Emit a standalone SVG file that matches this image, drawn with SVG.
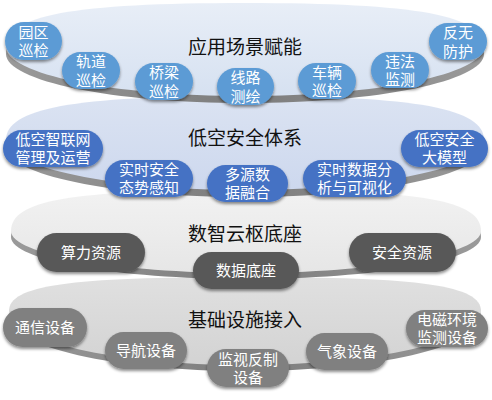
<svg xmlns="http://www.w3.org/2000/svg" width="492" height="400" viewBox="0 0 492 400">
<style>
.t{font-family:"Noto Sans CJK SC","Noto Sans",sans-serif;font-size:19px;fill:#111;text-anchor:middle;dominant-baseline:central}
.n{font-family:"Liberation Sans","Noto Sans CJK SC",sans-serif;font-size:15px;fill:#fff;text-anchor:middle;dominant-baseline:central}
.b1{fill:#5b9bd5;filter:url(#sh)}
.b2{fill:#4472c4;filter:url(#sh)}
.b3{fill:#595959;filter:url(#sh)}
.b4{fill:#808080;filter:url(#sh)}
.edge{fill:url(#edge)}
</style>
<defs>
<filter id="sh" x="-20%" y="-20%" width="140%" height="150%">
<feDropShadow dx="0" dy="2" stdDeviation="1.5" flood-color="#000" flood-opacity="0.45"/>
</filter>
<linearGradient id="edge" x1="0" y1="0" x2="1" y2="0">
<stop offset="0" stop-color="#9a9a9a"/>
<stop offset="0.5" stop-color="#7c7c7c"/>
<stop offset="1" stop-color="#9a9a9a"/>
</linearGradient>
<linearGradient id="g1" x1="0" y1="0" x2="0" y2="1">
<stop offset="0" stop-color="#e8eef7"/>
<stop offset="1" stop-color="#d6e1f1"/>
</linearGradient>
<linearGradient id="g2" x1="0" y1="0" x2="0" y2="1">
<stop offset="0" stop-color="#dbe3f2"/>
<stop offset="1" stop-color="#cdd8ee"/>
</linearGradient>
<linearGradient id="g3" x1="0" y1="0" x2="0" y2="1">
<stop offset="0" stop-color="#f2f2f2"/>
<stop offset="1" stop-color="#e6e6e6"/>
</linearGradient>
<linearGradient id="g4" x1="0" y1="0" x2="0" y2="1">
<stop offset="0" stop-color="#e0e0e0"/>
<stop offset="1" stop-color="#d3d3d3"/>
</linearGradient>
<path id="d1" d="M6,47 C6,15.3 72.9,3 245,3 C417.1,3 484,15.3 484,47 C484,74.1 377,96 245,96 C113,96 6,74.1 6,47Z"/>
<path id="d2" d="M6,140 C6,108.3 72.9,96 245,96 C417.1,96 484,108.3 484,140 C484,167.6 377,190 245,190 C113,190 6,167.6 6,140Z"/>
<path id="d3" d="M11,231 C11,200.3 69.8,190 246,190 C422.3,190 481,200.3 481,231 C481,254.2 375.8,273 246,273 C116.2,273 11,254.2 11,231Z"/>
<path id="d4" d="M9,311 C9,285.5 68,277 245,277 C422,277 481,285.5 481,311 C481,340.8 375.3,365 245,365 C114.7,365 9,340.8 9,311Z"/>
</defs>
<rect width="492" height="400" fill="#fff"/>

<g id="layer4">
<use href="#d4" class="edge" y="6"/>
<use href="#d4" fill="url(#g4)"/>
<text class="t" x="245" y="318">基础设施接入</text>
<g id="n4a"><rect class="b4" x="3" y="308" width="84" height="39" rx="19.5"/><text class="n" x="45" y="327.5">通信设备</text></g>
<g id="n4b"><rect class="b4" x="105" y="332" width="82" height="37" rx="18.5"/><text class="n" x="146" y="350.5">导航设备</text></g>
<g id="n4c"><rect class="b4" x="207" y="349" width="82" height="38" rx="19"/><text class="n" x="248" y="359">监视反制<tspan x="248" dy="18">设备</tspan></text></g>
<g id="n4d"><rect class="b4" x="306" y="333" width="82" height="37" rx="18.5"/><text class="n" x="347" y="351.5">气象设备</text></g>
<g id="n4e"><rect class="b4" x="406" y="310" width="82" height="37" rx="18.5"/><text class="n" x="447" y="319">电磁环境<tspan x="447" dy="18">监测设备</tspan></text></g>
</g>

<g id="layer3">
<use href="#d3" class="edge" y="6"/>
<use href="#d3" fill="url(#g3)"/>
<text class="t" x="245" y="232">数智云枢底座</text>
<g id="n3a"><rect class="b3" x="37" y="233" width="108" height="39" rx="19.5"/><text class="n" x="91" y="252.5">算力资源</text></g>
<g id="n3b"><rect class="b3" x="193" y="252" width="106" height="37" rx="18.5"/><text class="n" x="246" y="270.5">数据底座</text></g>
<g id="n3c"><rect class="b3" x="349" y="233" width="107" height="39" rx="19.5"/><text class="n" x="402" y="252.5">安全资源</text></g>
</g>

<g id="layer2">
<use href="#d2" class="edge" y="7"/>
<use href="#d2" fill="url(#g2)"/>
<text class="t" x="245" y="136">低空安全体系</text>
<g id="n2a"><rect class="b2" x="3" y="130" width="100" height="37" rx="18.5"/><text class="n" x="53" y="139">低空智联网<tspan x="53" dy="18">管理及运营</tspan></text></g>
<g id="n2b"><rect class="b2" x="105" y="160" width="88" height="37" rx="18.5"/><text class="n" x="149" y="169">实时安全<tspan x="149" dy="18">态势感知</tspan></text></g>
<g id="n2c"><rect class="b2" x="207" y="165" width="81" height="37" rx="18.5"/><text class="n" x="247.5" y="174">多源数<tspan x="247.5" dy="18">据融合</tspan></text></g>
<g id="n2d"><rect class="b2" x="303" y="160" width="103" height="37" rx="18.5"/><text class="n" x="354.5" y="169">实时数据分<tspan x="354.5" dy="18">析与可视化</tspan></text></g>
<g id="n2e"><rect class="b2" x="401" y="130" width="87" height="37" rx="18.5"/><text class="n" x="444.5" y="139">低空安全<tspan x="444.5" dy="18">大模型</tspan></text></g>
</g>

<g id="layer1">
<use href="#d1" class="edge" y="7"/>
<use href="#d1" fill="url(#g1)"/>
<text class="t" x="245" y="45">应用场景赋能</text>
<g id="n1a"><rect class="b1" x="5" y="22" width="57" height="38" rx="19"/><text class="n" x="33.5" y="32">园区<tspan x="33.5" dy="18">巡检</tspan></text></g>
<g id="n1b"><rect class="b1" x="62" y="52" width="58" height="37" rx="18.5"/><text class="n" x="91" y="61.5">轨道<tspan x="91" dy="18">巡检</tspan></text></g>
<g id="n1c"><rect class="b1" x="135" y="63" width="58" height="37" rx="18.5"/><text class="n" x="164" y="72.5">桥梁<tspan x="164" dy="18">巡检</tspan></text></g>
<g id="n1d"><rect class="b1" x="217" y="68" width="57" height="37" rx="18.5"/><text class="n" x="245.5" y="77.5">线路<tspan x="245.5" dy="18">测绘</tspan></text></g>
<g id="n1e"><rect class="b1" x="298" y="63" width="58" height="36" rx="18"/><text class="n" x="327" y="72">车辆<tspan x="327" dy="18">巡检</tspan></text></g>
<g id="n1f"><rect class="b1" x="371" y="52" width="58" height="36" rx="18"/><text class="n" x="400" y="61">违法<tspan x="400" dy="18">监测</tspan></text></g>
<g id="n1g"><rect class="b1" x="429" y="23" width="58" height="37" rx="18.5"/><text class="n" x="458" y="32.5">反无<tspan x="458" dy="18">防护</tspan></text></g>
</g>
<g id="connectors"/>
</svg>
